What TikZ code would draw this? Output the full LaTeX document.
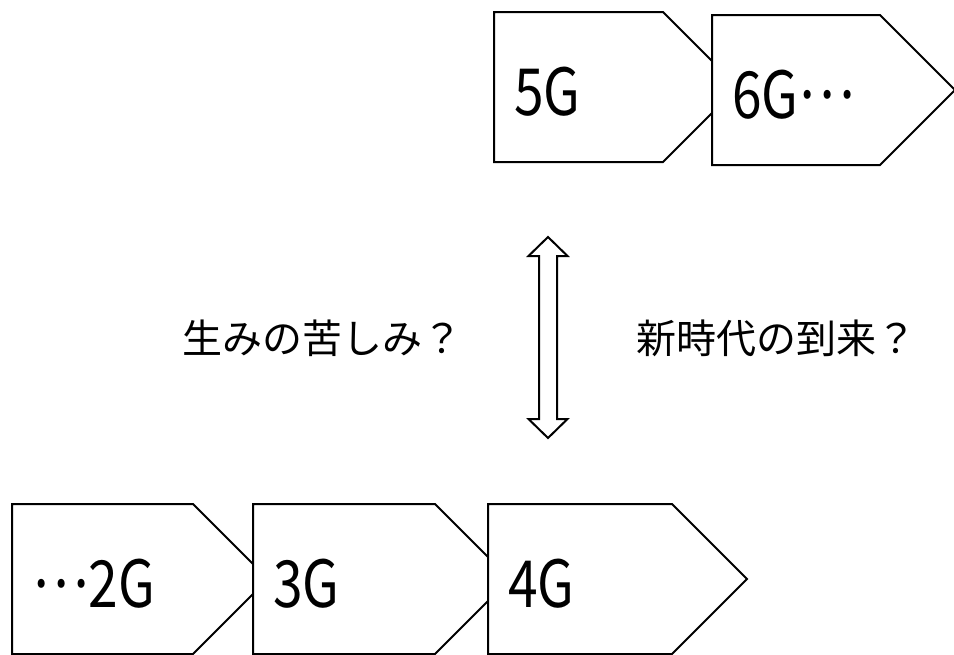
\documentclass[tikz,border=0pt]{standalone}
\usepackage{fontspec}
\newfontfamily\jpfont{Noto Sans CJK JP}
\newfontfamily\genfont[FakeStretch=0.82]{Noto Sans CJK JP}
\newcommand\gendots{\raisebox{0.3em}{…}}
\usetikzlibrary{calc}

\begin{document}
\begin{tikzpicture}[
  x=1pt,y=-1pt,
  genbox/.style={draw,line width=2pt,fill=white},
  genlabel/.style={anchor=base west,inner sep=0pt,font=\genfont\fontsize{65}{70}\selectfont},
  question/.style={inner sep=0pt,font=\jpfont\fontsize{40}{48}\selectfont},
]
  \fill[white] (0,0) rectangle (954,654);
  \useasboundingbox (0,0) rectangle (954,654);

  % Generations: left x / top y / end of body
  \foreach \nm/\lx/\ty/\rx/\txt in {five/494/12/663/5G, six/712/15/880/6G\gendots,
      two/12/504/193/\gendots 2G, three/253/504/435/3G, four/488/504/672/4G}{
    \draw[genbox] (\lx,\ty) -- (\rx,\ty) -- ++(75,75) -- ++(-75,75) -- (\lx,\ty+150) -- cycle;
    \node[genlabel] (\nm) at (\lx+20,\ty+103) {\txt};
  }

  % Double arrow
  \draw[line width=2pt] (548,237) -- (567.5,256) -- (557,256) -- (557,419) -- (567.5,419)
    -- (548,438) -- (528.5,419) -- (539,419) -- (539,256) -- (528.5,256) -- cycle;

  % Questions
  \node[question] (pain) at (322,338) {生みの苦しみ？};
  \node[question] (newera) at (776,338) {新時代の到来？};
\end{tikzpicture}
\end{document}
